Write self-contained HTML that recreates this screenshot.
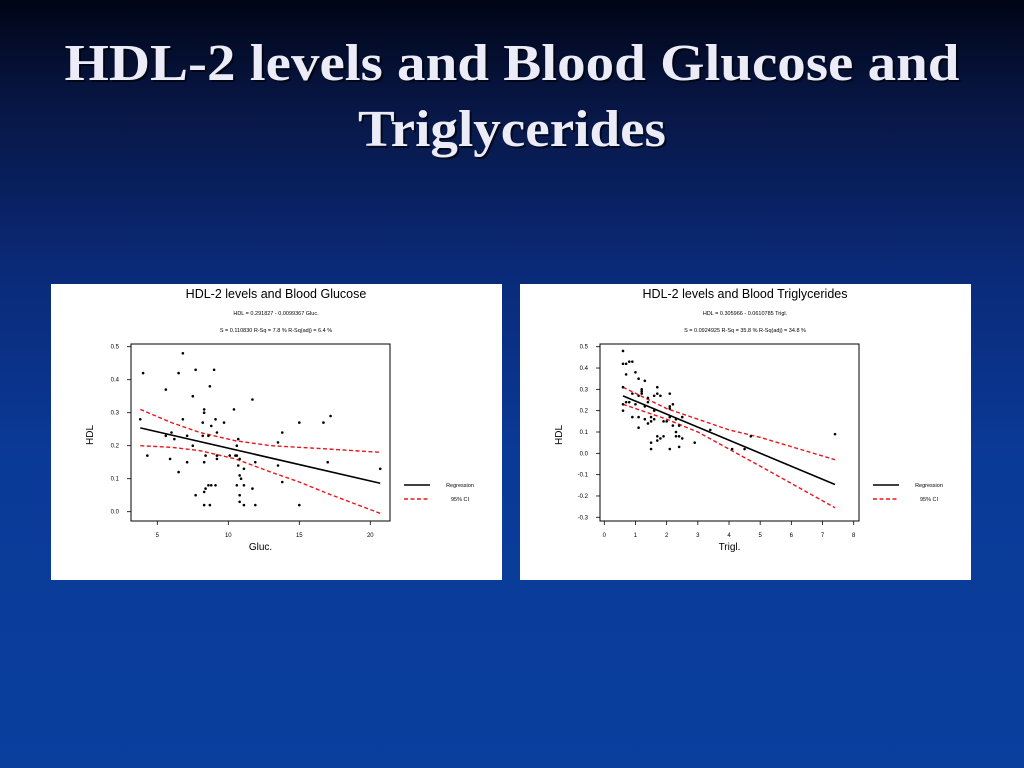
<!DOCTYPE html>
<html><head><meta charset="utf-8"><style>
html,body{margin:0;padding:0;width:1024px;height:768px;overflow:hidden}
svg{display:block}
</style></head><body>
<svg id="root" width="1024" height="768" viewBox="0 0 1024 768" xmlns="http://www.w3.org/2000/svg">
<defs>
<linearGradient id="bg" x1="0" y1="0" x2="0" y2="1">
<stop offset="0" stop-color="#000516"/>
<stop offset="0.12" stop-color="#07143f"/>
<stop offset="0.35" stop-color="#0a2a78"/>
<stop offset="0.6" stop-color="#0a3a98"/>
<stop offset="1" stop-color="#0a3f9e"/>
</linearGradient>
</defs>
<rect width="1024" height="768" fill="url(#bg)"/>
<g font-family="'Liberation Serif', serif" font-weight="bold" font-size="52" text-anchor="middle">
<text x="514" y="82" fill="#000" opacity="0.6" textLength="895" lengthAdjust="spacingAndGlyphs">HDL-2 levels and Blood Glucose and</text>
<text x="512" y="80" fill="#ececf8" textLength="895" lengthAdjust="spacingAndGlyphs">HDL-2 levels and Blood Glucose and</text>
<text x="514" y="148" fill="#000" opacity="0.6" textLength="308" lengthAdjust="spacingAndGlyphs">Triglycerides</text>
<text x="512" y="146" fill="#ececf8" textLength="308" lengthAdjust="spacingAndGlyphs">Triglycerides</text>
</g>
<g id="c1"></g>
<g id="c2"></g>
</svg>
<script>
// Chart 1: HDL vs Glucose
const glucX = [3.8,4,4.3,5.6,5.6,5.9,6,6.2,6.5,6.5,6.8,6.8,7.1,7.1,7.5,7.5,7.7,7.7,8.2,8.2,8.3,8.3,8.3,8.4,8.4,8.3,8.3,8.6,8.7,8.6,8.8,8.7,8.8,9.0,9.1,9.1,9.2,9.2,9.2,9.7,10.1,10.4,10.5,10.6,10.6,10.6,10.7,10.7,10.8,10.8,10.9,10.8,10.8,11.1,11.1,11.1,11.7,11.7,11.9,11.9,13.5,13.5,13.8,13.8,15,15,16.7,17,17.2,20.7];
const glucHDL = [.28,.42,.17,.37,.23,.16,.24,.22,.42,.12,.48,.28,.23,.15,.35,.20,.43,.05,.27,.23,.31,.30,.15,.17,.07,.06,.02,.23,.38,.08,.08,.02,.26,.43,.28,.08,.24,.17,.16,.27,.17,.31,.17,.20,.17,.08,.22,.14,.16,.11,.10,.05,.03,.13,.08,.02,.34,.07,.15,.02,.21,.14,.24,.09,.27,.02,.27,.15,.29,.13];
const glucRegX = [3.8,20.7];
const glucIntercept = 0.291827, glucSlope = -0.0099367;
const glucCIX = [3.8,6,8,10.5,13,15,17,20.7];
const glucCIUpper = [.31,.27,.24,.215,.20,.195,.19,.18];
const glucCILower = [.20,.195,.185,.16,.12,.09,.055,-.005];
const glucXTicks = [5,10,15,20];
const glucYTicks = [0.0,0.1,0.2,0.3,0.4,0.5];

// Chart 2: HDL vs Triglycerides
const trigX = [0.6,0.6,0.7,0.8,0.9,0.7,1.0,1.1,1.3,0.6,0.6,0.6,0.7,0.8,0.9,1.0,1.1,1.2,1.2,1.2,1.3,1.4,1.4,1.3,1.4,0.9,1.1,1.1,1.5,1.5,1.6,1.6,1.7,1.7,1.8,1.6,1.5,1.5,1.7,1.7,1.8,1.9,1.9,2.0,2.1,2.1,2.1,2.2,2.1,2.2,2.3,2.3,2.3,2.4,2.4,2.5,2.5,2.1,2.4,2.9,3.4,4.1,4.5,4.7,7.4];
const trigHDL = [.48,.42,.42,.43,.43,.37,.38,.35,.34,.31,.23,.20,.24,.24,.28,.23,.27,.30,.29,.28,.22,.26,.24,.16,.14,.17,.17,.12,.17,.15,.16,.27,.31,.28,.27,.20,.05,.02,.08,.06,.07,.08,.15,.15,.28,.22,.21,.23,.17,.13,.16,.10,.08,.08,.13,.17,.07,.02,.03,.05,.11,.02,.02,.08,.09];
const trigRegX = [0.6,7.4];
const trigIntercept = 0.305966, trigSlope = -0.0610785;
const trigCIX = [0.6,2,3,4,5,7.4];
const trigCIUpper = [.31,.21,.16,.11,.075,-.03];
const trigCILower = [.23,.16,.10,.02,-.06,-.255];
const trigXTicks = [0,1,2,3,4,5,6,7,8];
const trigYTicks = [-0.3,-0.2,-0.1,0.0,0.1,0.2,0.3,0.4,0.5];

const NS='http://www.w3.org/2000/svg';
function mk(parent,tag,attrs,text){const e=document.createElementNS(NS,tag);for(const k in attrs)e.setAttribute(k,attrs[k]);if(text!==undefined)e.textContent=text;parent.appendChild(e);return e;}

function drawChart(g,cfg){
  const {px,title,eq,stats,xlabel,xs,ys,regX,b0,b1,ciX,ciU,ciL,xTicks,yTicks,xMin,xMax,yMin,yMax,fx,fy,frame} = cfg;
  const sx = v => fx[0] + (v-xMin)/(xMax-xMin)*(fx[1]-fx[0]);
  const sy = v => fy[0] + (v-yMin)/(yMax-yMin)*(fy[1]-fy[0]);
  const panel = mk(g,'rect',{x:px,y:284,width:451,height:296,fill:'#fff'});
  
  
  const cx = px+225;
  const t = mk(g,'text',{x:cx,y:298,'font-family':"'Liberation Sans',sans-serif",'font-size':12.5,'text-anchor':'middle',fill:'#000'},title);
  
  
  const e1 = mk(g,'text',{x:cx,y:315,'font-family':"'Liberation Sans',sans-serif",'font-size':5.5,'text-anchor':'middle',fill:'#000'},eq);
  
  
  const e2 = mk(g,'text',{x:cx,y:332,'font-family':"'Liberation Sans',sans-serif",'font-size':5.5,'text-anchor':'middle',fill:'#000'},stats);
  
  
  const fr = mk(g,'rect',{x:frame[0],y:344,width:frame[1]-frame[0],height:177,fill:'none',stroke:'#000','stroke-width':1});
  
  
  xTicks.forEach(v=>{
    const x=sx(v);
    const tk=mk(g,'line',{x1:x,x2:x,y1:521,y2:525,stroke:'#000','stroke-width':0.8});
    
    
    const tl=mk(g,'text',{x:x,y:537,'font-family':"'Liberation Sans',sans-serif",'font-size':6,'text-anchor':'middle'},String(v));
    
    
  });
  yTicks.forEach(v=>{
    const y=sy(v);
    const tk=mk(g,'line',{x1:frame[0]-4,x2:frame[0],y1:y,y2:y,stroke:'#000','stroke-width':0.8});
    
    
    const tl=mk(g,'text',{x:frame[0]-12,y:y+2,'font-family':"'Liberation Sans',sans-serif",'font-size':6,'text-anchor':'end'},v.toFixed(1));
    
    
  });
  const yl = mk(g,'text',{x:0,y:0,transform:`translate(${px+42},435) rotate(-90)`,'font-family':"'Liberation Sans',sans-serif",'font-size':10,'text-anchor':'middle'},'HDL');
  
  
  const xl = mk(g,'text',{x:(frame[0]+frame[1])/2,y:550,'font-family':"'Liberation Sans',sans-serif",'font-size':10,'text-anchor':'middle'},xlabel);
  
  
  const up = mk(g,'polyline',{points:ciX.map((x,i)=>sx(x)+','+sy(ciU[i])).join(' '),fill:'none',stroke:'#e8161c','stroke-width':1.4,'stroke-dasharray':'4,2.5'});
  
  
  const lo = mk(g,'polyline',{points:ciX.map((x,i)=>sx(x)+','+sy(ciL[i])).join(' '),fill:'none',stroke:'#e8161c','stroke-width':1.4,'stroke-dasharray':'4,2.5'});
  
  
  const rl = mk(g,'line',{x1:sx(regX[0]),y1:sy(b0+b1*regX[0]),x2:sx(regX[1]),y2:sy(b0+b1*regX[1]),stroke:'#000','stroke-width':1.6});
  
  
  xs.forEach((x,i)=>{
    const p=mk(g,'circle',{cx:sx(x),cy:sy(ys[i]),r:1.3,fill:'#000'});
    
    
  });
  const lx = px+353;
  const l1=mk(g,'line',{x1:lx,x2:lx+26,y1:485,y2:485,stroke:'#000','stroke-width':1.6});
  
  
  const l1t=mk(g,'text',{x:lx+56,y:487,'font-family':"'Liberation Sans',sans-serif",'font-size':5.5,'text-anchor':'middle'},'Regression');
  
  
  const l2=mk(g,'line',{x1:lx,x2:lx+26,y1:499,y2:499,stroke:'#e8161c','stroke-width':1.4,'stroke-dasharray':'4,2.5'});
  
  
  const l2t=mk(g,'text',{x:lx+56,y:501,'font-family':"'Liberation Sans',sans-serif",'font-size':5.5,'text-anchor':'middle'},'95% CI');
  
  
}

drawChart(document.getElementById('c1'),{px:51,title:'HDL-2 levels and Blood Glucose',eq:'HDL = 0.291827 - 0.0099367 Gluc.',stats:'S = 0.110830      R-Sq = 7.8 %      R-Sq(adj) = 6.4 %',xlabel:'Gluc.',xs:glucX,ys:glucHDL,regX:glucRegX,b0:glucIntercept,b1:glucSlope,ciX:glucCIX,ciU:glucCIUpper,ciL:glucCILower,xTicks:glucXTicks,yTicks:glucYTicks,xMin:5,xMax:20,yMin:0,yMax:0.5,fx:[157.3,370.3],fy:[511.7,346.7],frame:[131,390]});
drawChart(document.getElementById('c2'),{px:520,title:'HDL-2 levels and Blood Triglycerides',eq:'HDL = 0.305966 - 0.0610785 Trigl.',stats:'S = 0.0924925      R-Sq = 35.8 %      R-Sq(adj) = 34.8 %',xlabel:'Trigl.',xs:trigX,ys:trigHDL,regX:trigRegX,b0:trigIntercept,b1:trigSlope,ciX:trigCIX,ciU:trigCIUpper,ciL:trigCILower,xTicks:trigXTicks,yTicks:trigYTicks,xMin:0,xMax:8,yMin:-0.3,yMax:0.5,fx:[604.3,853.7],fy:[517.3,346.7],frame:[600,859]});
</script>
</body></html>
